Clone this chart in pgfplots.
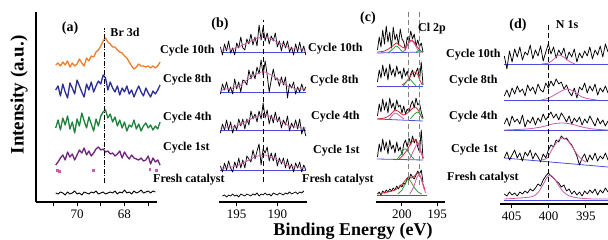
\documentclass[border=0pt]{standalone}
\usepackage{fontspec}
\setmainfont{Liberation Serif}
\usepackage{pgfplots}
\usepackage{pgfplotstable}
\pgfplotsset{compat=1.18}
\definecolor{cor}{RGB}{240,125,45}
\definecolor{cbl}{RGB}{45,45,150}
\definecolor{cgr}{RGB}{30,130,60}
\definecolor{cpu}{RGB}{110,35,125}
\definecolor{cpk}{RGB}{205,90,175}
\definecolor{cbase}{RGB}{70,80,220}
\definecolor{cred}{RGB}{220,40,50}
\definecolor{cgf}{RGB}{40,160,60}

\pgfplotstableread{
x o b g p k
70.9 137 112 74 37 9
70.8 139 116 82 40 8
70.7 136 106 72 44 10
70.6 140 118 84 47 9
70.5 137 110 77 42 7
70.4 141 104 86 50 10
70.3 135 119 73 45 8
70.2 139 114 80 48 9
70.1 136 108 69 42 11
70.0 138 122 83 47 8
69.9 143 116 76 52 9
69.8 139 110 89 49 7
69.7 136 105 81 54 10
69.6 144 118 74 47 9
69.5 141 112 85 51 8
69.4 146 120 78 46 10
69.3 145 110 71 49 9
69.2 150 116 83 53 11
69.1 152 121 76 55 8
69.0 156 118 86 52 9
68.9 161 127 90 53 10
68.8 164 124 92 50 8
68.7 160 112 84 51 9
68.6 158 120 88 48 10
68.5 155 114 80 49 9
68.4 155 110 85 46 11
68.3 152 116 76 48 8
68.2 150 107 82 51 10
68.1 149 114 74 44 9
68.0 146 110 80 50 12
67.9 144 116 71 46 9
67.8 140 108 77 43 10
67.7 136 112 75 47 8
67.6 133 105 82 44 11
67.5 135 111 73 43 9
67.4 138 116 78 42 10
67.3 136 110 71 44 12
67.2 136 106 76 41 9
67.1 135 114 79 42 10
67.0 136 109 74 46 11
66.9 134 105 77 38 9
66.8 136 111 72 44 11
66.7 134 108 76 40 10
66.6 136 112 73 42 nan
66.5 140 117 80 37 nan
}\tabA

\pgfplotstableread{
x t e f o r pt pe pf po
197.00 155 108 69 36 nan 152 112 74 34
196.75 147 118 78 30 6 152 112 74 34
196.50 158 112 72 39 7 152 113 74 34
196.25 151 120 82 32 5 153 113 75 35
196.00 161 110 72 41 7 153 113 75 35
195.75 149 115 80 34 6 153 113 75 35
195.50 154 108 69 30 8 153 114 75 35
195.25 147 123 77 40 6 154 115 76 36
195.00 159 113 72 34 7 154 115 76 36
194.75 154 120 83 44 5 155 116 77 37
194.50 165 110 76 34 8 156 117 78 38
194.25 154 122 83 42 7 157 119 79 39
194.00 152 121 73 34 6 158 120 80 40
193.75 163 117 83 46 8 159 122 81 41
193.50 158 132 77 43 7 160 123 82 42
193.25 168 123 91 40 6 161 125 83 43
193.00 157 131 83 52 8 162 126 84 44
192.75 165 123 88 43 7 163 127 85 45
192.50 156 135 80 51 9 164 128 86 46
192.25 177 128 91 58 6 164 129 86 46
192.00 162 142 83 37 8 165 130 87 47
191.75 175 127 99 53 7 165 130 87 47
191.50 161 141 84 49 9 165 130 87 47
191.25 169 127 92 55 7 164 129 86 46
191.00 158 110 78 41 8 164 128 86 46
190.75 166 122 87 49 6 163 127 85 45
190.50 161 133 79 41 9 162 126 84 44
190.25 169 122 90 49 8 161 125 83 43
190.00 155 124 80 36 7 160 123 82 42
189.75 161 116 85 44 9 159 122 81 41
189.50 151 125 74 38 8 158 120 80 40
189.25 161 117 82 44 7 157 119 79 39
189.00 154 125 77 34 9 156 117 78 38
188.75 161 104 86 43 8 155 116 77 37
188.50 150 118 71 33 10 154 115 76 36
188.25 155 114 79 38 8 154 115 76 36
188.00 147 120 74 30 9 153 114 75 35
187.75 158 108 82 39 10 153 113 75 35
187.50 150 115 73 34 8 153 113 75 35
187.25 160 110 83 40 10 153 113 75 35
187.00 150 118 68 30 9 152 113 74 34
186.75 156 111 75 37 11 152 112 74 34
186.50 147 115 66 32 nan 152 112 74 34
}\tabB

\pgfplotstableread{
x a b c d f
203.50 152 120 86 45 8
203.25 165 132 98 58 10
203.00 155 124 90 50 7
202.75 172 137 103 63 11
202.50 158 126 92 52 9
202.25 176 134 100 60 12
202.00 160 122 89 48 10
201.75 170 138 104 62 13
201.50 154 127 94 53 11
201.25 175 133 99 57 14
201.00 162 125 91 49 12
200.75 168 136 102 60 16
200.50 157 128 95 51 13
200.25 173 131 97 55 17
200.00 163 123 89 47 15
199.75 160 134 96 58 19
199.50 152 126 88 62 18
199.25 165 131 93 55 24
199.00 160 121 90 64 22
198.75 171 128 97 57 28
198.50 163 132 101 66 25
198.25 168 125 94 59 23
198.00 156 130 104 63 27
197.75 162 134 97 55 31
197.50 155 122 99 50 28
197.25 159 140 90 72 32
197.00 150 117 84 43 20
}\tabC

\pgfplotstableread{
x a b c d f
406.00 146 106 78 44 8
405.65 133 112 84 50 6
405.30 151 105 76 42 10
404.95 140 114 86 47 7
404.60 153 108 80 52 9
404.25 145 116 83 44 6
403.90 155 110 78 49 10
403.55 142 113 87 41 8
403.20 150 106 75 50 11
402.85 147 117 82 46 9
402.50 157 111 79 52 13
402.15 143 115 85 43 11
401.80 152 108 77 49 14
401.45 146 118 84 45 18
401.10 156 112 80 40 16
400.75 141 110 88 48 22
400.40 150 119 82 44 26
400.05 158 114 86 52 29
399.70 148 121 90 57 26
399.35 155 116 84 55 24
399.00 144 123 88 62 21
398.65 152 118 82 60 19
398.30 147 120 89 66 15
397.95 154 113 85 63 17
397.60 142 117 80 64 11
397.25 150 110 86 60 13
396.90 145 106 78 57 8
396.55 153 114 84 52 11
396.20 140 104 80 46 7
395.85 149 115 85 37 10
395.50 144 112 77 44 6
395.15 151 119 83 48 11
394.80 146 109 79 40 8
394.45 155 116 86 47 12
394.10 143 111 81 42 9
393.75 152 118 76 49 13
393.40 147 107 84 41 7
393.05 156 114 78 46 12
392.70 145 110 82 43 9
392.35 158 116 76 49 14
392.00 150 109 81 42 10
}\tabD

\pgfplotsset{
  panel/.style={scale only axis, anchor=south west, height=190pt, ymin=0, ymax=190,
    x dir=reverse, clip=false, axis x line=bottom, axis y line=none,
    axis line style={line width=1.2pt,-}, tick align=outside, major tick length=4pt,
    tick style={line width=1pt,black}, ytick=\empty,
    xticklabel style={font=\fontsize{13}{13}\selectfont, inner sep=1pt, yshift=-3pt},
    /pgf/number format/assume math mode=true},
}
\tikzset{
  spec/.style={black, line width=0.75pt, line join=round},
  fitp/.style={cpk, line width=0.8pt, smooth},
  fitr/.style={cred, line width=0.8pt, smooth},
  fitg/.style={cgf, line width=0.8pt, smooth},
  base/.style={cbase, line width=0.8pt},
  lab/.style={font=\bfseries\fontsize{12}{12}\selectfont, inner sep=0pt, anchor=west},
}

\begin{document}
\begin{tikzpicture}[x=1pt,y=1pt]
\useasboundingbox (0,0) rectangle (608,240);

% ---------- panel (a)
\begin{axis}[panel, at={(36pt,38pt)}, width=121pt, xmin=66.63, xmax=71.73,
  xtick={67,68,69,70,71}, xticklabels={,68,,70,}]
\addplot[cor, line width=1.3pt, line join=round] table[x=x,y=o]{\tabA};
\addplot[cbl, line width=1.3pt, line join=round] table[x=x,y=b]{\tabA};
\addplot[cgr, line width=1.3pt, line join=round] table[x=x,y=g]{\tabA};
\addplot[cpu, line width=1.3pt, line join=round] table[x=x,y=p]{\tabA};
\addplot[black, line width=0.9pt, line join=round] table[x=x,y=k]{\tabA};
\addplot[only marks, mark=square*, mark size=0.8pt, cpk] coordinates {(70.84,32) (70.76,31) (69.33,32) (66.93,33) (66.67,32)};
\addplot[black, line width=0.9pt, dash pattern=on 5pt off 1.5pt on 1pt off 1.5pt] coordinates {(68.86,19) (68.86,174)};
\end{axis}
\draw[line width=1.2pt] (36,38) -- (36,228);

% ---------- panel (b)
\begin{axis}[panel, at={(219pt,38pt)}, width=88pt, xmin=186.35, xmax=197.18,
  xtick={190,195}]
\addplot[base] coordinates {(196.8,150) (186.5,150)};
\addplot[base] coordinates {(197.0,110) (186.5,110)};
\addplot[base] coordinates {(197.0,72) (186.5,72)};
\addplot[base] coordinates {(197.0,32) (186.5,32)};
\addplot[spec] table[x=x,y=t]{\tabB};
\addplot[spec] table[x=x,y=e]{\tabB};
\addplot[spec] table[x=x,y=f]{\tabB};
\addplot[spec] table[x=x,y=o]{\tabB};
\addplot[spec] table[x=x,y=r]{\tabB};
\addplot[fitp] table[x=x,y=pt]{\tabB};
\addplot[fitp] table[x=x,y=pe]{\tabB};
\addplot[fitp] table[x=x,y=pf]{\tabB};
\addplot[fitp] table[x=x,y=po]{\tabB};
\addplot[black, line width=1.1pt, dash pattern=on 5pt off 3pt] coordinates {(191.73,20) (191.73,182)};
\end{axis}

% ---------- panel (c)
\begin{axis}[panel, at={(376pt,38pt)}, width=69pt, xmin=193.86, xmax=203.71,
  xtick={195,200}]
\addplot[base] coordinates {(203.6,149) (197.0,150)};
\addplot[base] coordinates {(203.6,116) (197.0,116)};
\addplot[base] coordinates {(203.6,83) (197.0,81)};
\addplot[base] coordinates {(203.6,43) (197.0,42)};
\addplot[base] coordinates {(203.6,7) (196.5,7)};
\addplot[spec] table[x=x,y=a]{\tabC};
\addplot[spec] table[x=x,y=b]{\tabC};
\addplot[spec] table[x=x,y=c]{\tabC};
\addplot[spec] table[x=x,y=d]{\tabC};
\addplot[spec] table[x=x,y=f]{\tabC};
% fits 10th
\addplot[fitr] coordinates {(203.5,150) (202.5,151) (201.5,155) (200.8,159) (200.2,156) (199.6,154) (199.1,159) (198.7,162) (198.3,160) (197.8,155) (197.3,151) (197.0,150)};
\addplot[fitp] coordinates {(200.0,149) (199.5,153) (199.0,159) (198.7,161) (198.3,159) (197.8,153) (197.4,149)};
\addplot[fitg] coordinates {(202.0,149) (201.3,153) (200.8,156) (200.3,153) (199.8,149)};
\addplot[fitg] coordinates {(198.0,149) (197.6,152) (197.2,150)};
% fits 8th
\addplot[fitr] coordinates {(200.0,117) (199.4,120) (198.8,126) (198.3,130) (197.8,128) (197.4,121) (197.1,117)};
\addplot[fitg] coordinates {(199.8,116) (199.3,121) (198.9,123) (198.5,120) (198.0,116)};
% fits 4th
\addplot[fitr] coordinates {(203.5,83) (202.5,84) (201.7,87) (201.0,92) (200.4,90) (199.8,87) (199.2,89) (198.6,93) (198.1,95) (197.6,91) (197.2,85) (197.0,83)};
\addplot[fitp] coordinates {(201.8,83) (201.0,89) (200.3,86) (199.7,83)};
\addplot[fitg] coordinates {(198.8,83) (198.2,88) (197.7,90) (197.3,86) (197.0,83)};
% fits 1st
\addplot[fitr] coordinates {(200.4,43) (199.8,47) (199.2,53) (198.7,59) (198.2,62) (197.7,59) (197.3,50) (197.0,44)};
\addplot[fitg] coordinates {(200.8,42) (200.2,47) (199.7,53) (199.3,52) (198.8,47) (198.3,43)};
\addplot[fitp] coordinates {(198.9,43) (198.3,52) (197.8,58) (197.4,53) (197.0,45)};
% fits fresh
\addplot[fitr] coordinates {(203.5,8) (202,10) (201,12) (200.2,16) (199.6,21) (199.1,25) (198.7,24) (198.2,26) (197.8,29) (197.4,26) (197.0,18) (196.7,12)};
\addplot[fitg] coordinates {(200.6,8) (200.0,12) (199.5,19) (199.1,23) (198.7,20) (198.2,14) (197.7,10) (197.2,8)};
\addplot[fitp] coordinates {(198.9,8) (198.4,14) (197.9,24) (197.6,27) (197.3,24) (196.9,14) (196.6,9)};
\addplot[gray, line width=1pt, dash pattern=on 5pt off 3pt] coordinates {(199.0,17) (199.0,190)};
\addplot[gray, line width=1pt, dash pattern=on 5pt off 3pt] coordinates {(197.57,17) (197.57,190)};
\end{axis}

% ---------- panel (d)
\begin{axis}[panel, at={(500pt,36pt)}, width=111.7pt, height=192pt, ymin=-2, ymax=190,
  xmin=391.5, xmax=406.58, xtick={395,400,405}]
\addplot[base] coordinates {(406,138) (392,138)};
\addplot[base] coordinates {(406,102) (392,102)};
\addplot[base] coordinates {(406,72) (392,72)};
\addplot[base] coordinates {(406,44) (392,35)};
\addplot[base] coordinates {(406,2) (392,2)};
\addplot[spec] table[x=x,y=a]{\tabD};
\addplot[spec] table[x=x,y=b]{\tabD};
\addplot[spec] table[x=x,y=c]{\tabD};
\addplot[spec] table[x=x,y=d]{\tabD};
\addplot[spec] table[x=x,y=f]{\tabD};
\addplot[fitp] coordinates {(401,138) (400,139) (399.3,143) (398.7,147) (398.0,145) (397.3,141) (396.5,138)};
\addplot[fitp] coordinates {(401,102) (400,104) (399,108) (398,112) (397.3,113) (396.5,110) (395.5,105) (394.5,103) (393.5,102)};
\addplot[fitp] coordinates {(406,72) (403,73) (401,75) (399.5,78) (398.3,79) (397,78) (395.5,75) (394,73) (392,72)};
\addplot[fitp] coordinates {(401,42) (400.2,44) (399.6,52) (399.0,59) (398.5,63) (398.0,64) (397.4,61) (396.8,55) (396.2,48) (395.6,43) (395.0,40)};
\addplot[fitp] coordinates {(406,3) (402.5,5) (401.5,9) (400.8,17) (400.2,25) (399.8,27) (399.3,24) (398.7,17) (398.0,10) (397.2,6) (396,4) (394,3) (392,3)};
\addplot[black, line width=1.1pt, dash pattern=on 5pt off 3pt] coordinates {(400,4) (400,179)};
\end{axis}

% ---------- texts
\node[rotate=90, font=\bfseries\fontsize{19}{19}\selectfont] at (19,145) {Intensity (a.u.)};
\node[anchor=base, font=\bfseries\fontsize{18}{18}\selectfont] at (353,4.3) {Binding Energy (eV)};

\node[font=\bfseries\fontsize{14}{14}\selectfont] at (70,212) {(a)};
\node[font=\bfseries\fontsize{12}{12}\selectfont] at (125,208) {Br 3d};
\node[font=\bfseries\fontsize{14}{14}\selectfont] at (220,216) {(b)};
\node[font=\bfseries\fontsize{14}{14}\selectfont] at (368,222) {(c)};
\node[font=\bfseries\fontsize{12}{12}\selectfont] at (432,211) {Cl 2p};
\node[font=\bfseries\fontsize{14}{14}\selectfont] at (518,215) {(d)};
\node[font=\bfseries\fontsize{12}{12}\selectfont] at (567,215) {N 1s};

\node[lab] at (160,189) {Cycle 10th};
\node[lab] at (163,160) {Cycle 8th};
\node[lab] at (163,122) {Cycle 4th};
\node[lab] at (163,92) {Cycle 1st};
\node[lab] at (153,60) {Fresh catalyst};

\node[lab] at (308,191) {Cycle 10th};
\node[lab] at (310,159) {Cycle 8th};
\node[lab] at (311,123) {Cycle 4th};
\node[lab] at (313,89) {Cycle 1st};
\node[lab] at (302,60) {Fresh catalyst};

\node[lab] at (446,185) {Cycle 10th};
\node[lab] at (449,159) {Cycle 8th};
\node[lab] at (449,123) {Cycle 4th};
\node[lab] at (451,90) {Cycle 1st};
\node[lab] at (447,62) {Fresh catalyst};
\end{tikzpicture}
\end{document}
